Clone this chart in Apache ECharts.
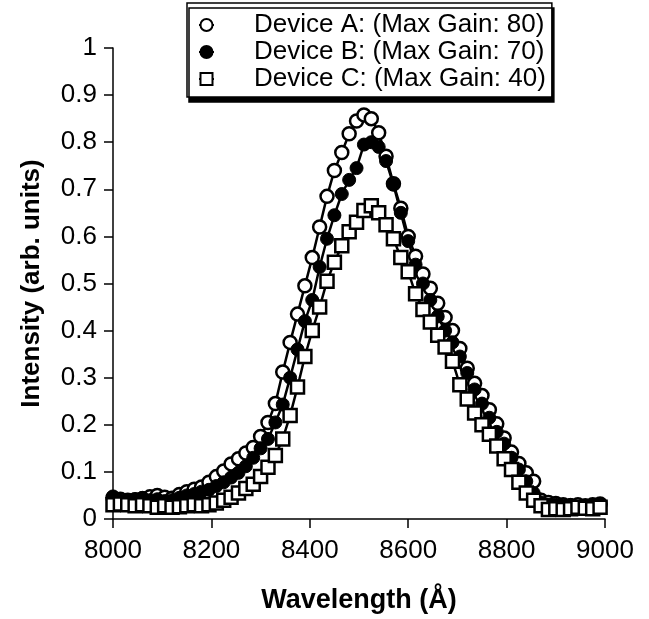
<!DOCTYPE html>
<html>
<head>
<meta charset="utf-8">
<script src="https://cdn.jsdelivr.net/npm/echarts@6/dist/echarts.min.js"></script>
<style>
html,body{margin:0;padding:0;background:#fff;}
#chart{width:649px;height:619px;}
</style>
</head>
<body>
<div id="chart"></div>
<script>
var wavelength = [8000,8015,8030,8045,8060,8075,8090,8105,8120,8135,8150,8165,8180,8195,8210,8225,8240,8255,8270,8285,8300,8315,8330,8345,8360,8375,8390,8405,8420,8435,8450,8465,8480,8495,8510,8525,8540,8555,8570,8585,8600,8615,8630,8645,8660,8675,8690,8705,8720,8735,8750,8765,8780,8795,8810,8825,8840,8855,8870,8885,8900,8915,8930,8945,8960,8975,8990];

var deviceA = [0.045,0.042,0.040,0.041,0.043,0.047,0.050,0.046,0.044,0.052,0.058,0.063,0.068,0.078,0.090,0.102,0.117,0.128,0.140,0.152,0.175,0.205,0.245,0.312,0.375,0.435,0.495,0.555,0.620,0.685,0.740,0.778,0.818,0.845,0.858,0.850,0.820,0.770,0.712,0.660,0.600,0.558,0.520,0.490,0.458,0.428,0.400,0.362,0.320,0.288,0.262,0.232,0.202,0.172,0.142,0.118,0.098,0.080,0.040,0.035,0.033,0.030,0.028,0.030,0.028,0.030,0.032];

var deviceB = [0.048,0.040,0.038,0.042,0.045,0.040,0.042,0.038,0.040,0.045,0.050,0.053,0.058,0.062,0.070,0.078,0.088,0.098,0.112,0.130,0.150,0.170,0.205,0.243,0.300,0.360,0.420,0.465,0.535,0.595,0.645,0.690,0.720,0.745,0.795,0.800,0.790,0.760,0.710,0.650,0.590,0.540,0.500,0.465,0.430,0.400,0.375,0.345,0.310,0.275,0.245,0.215,0.185,0.160,0.130,0.105,0.080,0.055,0.035,0.030,0.030,0.028,0.030,0.025,0.027,0.030,0.030];

var deviceC = [0.030,0.032,0.030,0.028,0.030,0.028,0.025,0.028,0.025,0.026,0.028,0.030,0.028,0.030,0.034,0.040,0.046,0.055,0.065,0.074,0.090,0.110,0.135,0.170,0.220,0.280,0.345,0.400,0.450,0.505,0.545,0.580,0.610,0.630,0.655,0.665,0.650,0.625,0.595,0.555,0.525,0.478,0.445,0.418,0.390,0.365,0.335,0.285,0.255,0.225,0.200,0.180,0.155,0.128,0.105,0.078,0.055,0.040,0.028,0.020,0.022,0.020,0.022,0.025,0.023,0.022,0.025];

var seriesNames = ['Device A: (Max Gain: 80)','Device B: (Max Gain: 70)','Device C: (Max Gain: 40)'];
var xTicks = [8000, 9000, 200];
var yTicks = [0, 1, 0.1];

function pairs(ys){ return wavelength.map(function(x,i){ return [x, ys[i]]; }); }

var FONT = '"Liberation Sans", Arial, Helvetica, sans-serif';
var chart = echarts.init(document.getElementById('chart'), null, {renderer:'canvas'});
var lineStyle = {color:'#000', width:2.5};
chart.setOption({
  animation:false,
  backgroundColor:'#fff',
  grid:{left:113, right:44, top:48, bottom:97, containLabel:false},
  legend:{
    orient:'vertical', left:187, top:3,
    padding:[9,6,5,11],
    itemGap:1, itemWidth:15, itemHeight:15,
    backgroundColor:'#fff',
    borderColor:'#000', borderWidth:1.5, borderRadius:0,
    shadowColor:'#000', shadowBlur:0, shadowOffsetX:2, shadowOffsetY:5,
    textStyle:{fontFamily:FONT, fontSize:26, color:'#000', padding:[0,0,0,35], lineHeight:25},
    data:seriesNames
  },
  xAxis:{
    type:'value', min:xTicks[0], max:xTicks[1], interval:xTicks[2],
    name:'Wavelength (Å)', nameLocation:'middle', nameGap:68,
    nameTextStyle:{fontFamily:FONT, fontSize:27, fontWeight:'bold', color:'#000'},
    axisLine:{show:true, onZero:false, lineStyle:{color:'#000', width:1.5}},
    axisTick:{show:true, inside:false, length:9, lineStyle:{color:'#000', width:1.5}},
    axisLabel:{fontFamily:FONT, fontSize:26, color:'#000', margin:19, formatter:function(v){return String(v);}},
    splitLine:{show:false}
  },
  yAxis:{
    type:'value', min:yTicks[0], max:yTicks[1], interval:yTicks[2],
    name:'Intensity (arb. units)', nameLocation:'middle', nameGap:68,
    nameTextStyle:{fontFamily:FONT, fontSize:26, fontWeight:'bold', color:'#000'},
    axisLine:{show:true, lineStyle:{color:'#000', width:1.5}},
    axisTick:{show:true, inside:false, length:9, lineStyle:{color:'#000', width:1.5}},
    axisLabel:{fontFamily:FONT, fontSize:26, color:'#000', margin:16},
    splitLine:{show:false}
  },
  series:[
    {name:seriesNames[0], type:'line', data:pairs(deviceA), symbol:'circle', symbolSize:13,
     itemStyle:{color:'#fff', borderColor:'#000', borderWidth:2.5}, lineStyle:lineStyle},
    {name:seriesNames[1], type:'line', data:pairs(deviceB), symbol:'circle', symbolSize:13,
     itemStyle:{color:'#000', borderColor:'#000', borderWidth:1}, lineStyle:lineStyle},
    {name:seriesNames[2], type:'line', data:pairs(deviceC), symbol:'rect', symbolSize:13,
     itemStyle:{color:'#fff', borderColor:'#000', borderWidth:2.5}, lineStyle:lineStyle}
  ]
});
</script>
</body>
</html>
